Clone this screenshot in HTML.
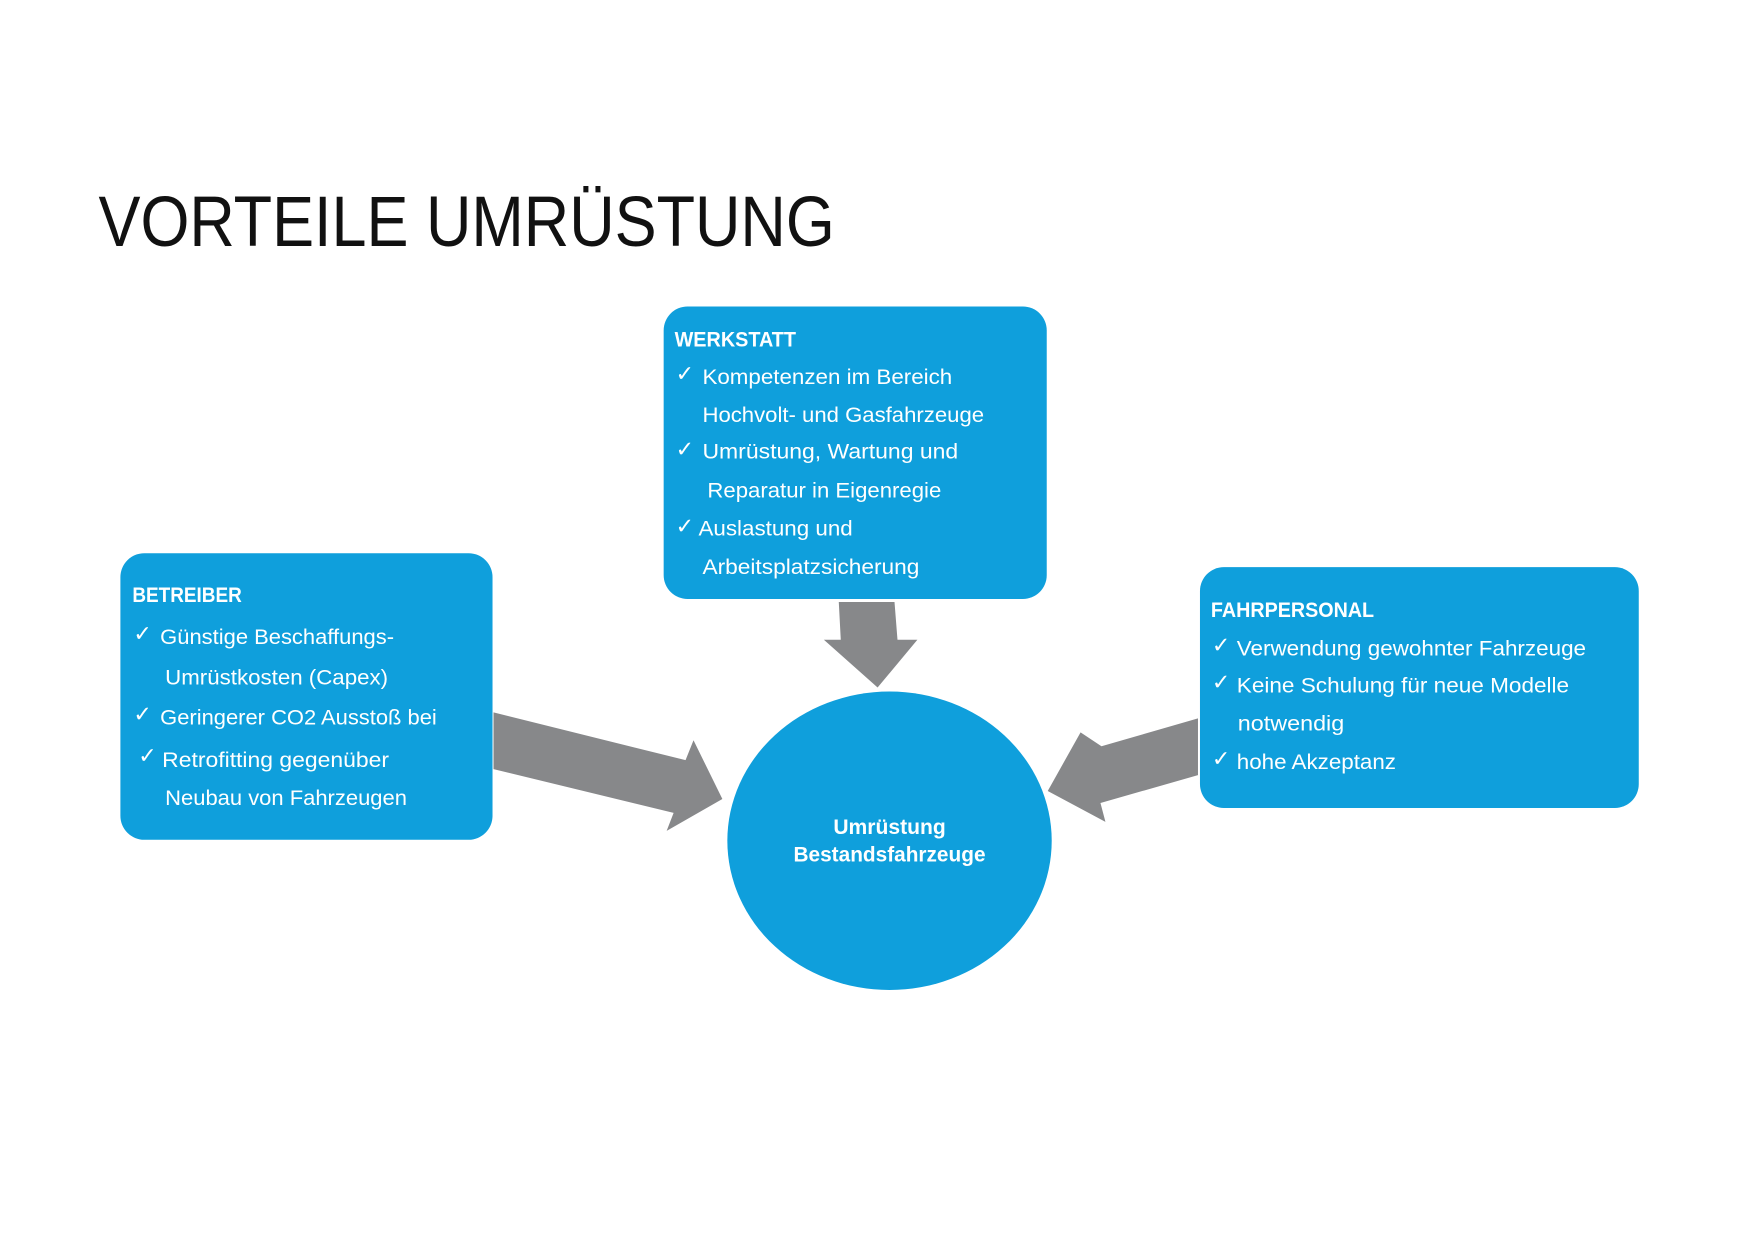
<!DOCTYPE html>
<html><head><meta charset="utf-8"><style>
html,body{margin:0;padding:0;background:#fff;}
svg{display:block;}
text{font-family:"Liberation Sans",sans-serif;}
.t{fill:#fff;font-size:21px;}
.h{fill:#fff;font-size:21px;font-weight:bold;}
.c{fill:#fff;font-size:22px;}
</style></head><body>
<svg width="1753" height="1240" viewBox="0 0 1753 1240" xmlns="http://www.w3.org/2000/svg">
<g transform="scale(0.995)">
<text x="99" y="247" font-size="72" fill="#111" textLength="740" lengthAdjust="spacingAndGlyphs">VORTEILE UMRÜSTUNG</text>

<polygon fill="#87888a" points="843,605 899,605 902,643 922,643 882,691 828,643 845,643"/>
<polygon fill="#87888a" points="496,716 689,764 697,744 726,803 670,835 677,817 496,773"/>
<polygon fill="#87888a" points="1204,722 1107,750 1086,736 1053,795 1111,826 1106,807 1204,779"/>

<rect x="667" y="308" width="385" height="294" rx="24" fill="#0f9fdc"/>
<rect x="121" y="556" width="374" height="288" rx="24" fill="#0f9fdc"/>
<rect x="1206" y="570" width="441" height="242" rx="24" fill="#0f9fdc"/>
<ellipse cx="894" cy="845" rx="163" ry="150" fill="#0f9fdc"/>

<text class="h" x="678" y="348" textLength="122" lengthAdjust="spacingAndGlyphs">WERKSTATT</text>
<text class="c" x="679" y="383">✓</text>
<text class="t" x="706" y="386" textLength="251" lengthAdjust="spacingAndGlyphs">Kompetenzen im Bereich</text>
<text class="t" x="706" y="424" textLength="283" lengthAdjust="spacingAndGlyphs">Hochvolt- und Gasfahrzeuge</text>
<text class="c" x="679" y="459">✓</text>
<text class="t" x="706" y="461" textLength="257" lengthAdjust="spacingAndGlyphs">Umrüstung, Wartung und</text>
<text class="t" x="711" y="500" textLength="235" lengthAdjust="spacingAndGlyphs">Reparatur in Eigenregie</text>
<text class="c" x="679" y="536">✓</text>
<text class="t" x="702" y="538" textLength="155" lengthAdjust="spacingAndGlyphs">Auslastung und</text>
<text class="t" x="706" y="577" textLength="218" lengthAdjust="spacingAndGlyphs">Arbeitsplatzsicherung</text>

<text class="h" x="133" y="605" textLength="110" lengthAdjust="spacingAndGlyphs">BETREIBER</text>
<text class="c" x="134" y="644">✓</text>
<text class="t" x="161" y="647" textLength="235" lengthAdjust="spacingAndGlyphs">Günstige Beschaffungs-</text>
<text class="t" x="166" y="688" textLength="224" lengthAdjust="spacingAndGlyphs">Umrüstkosten (Capex)</text>
<text class="c" x="134" y="725">✓</text>
<text class="t" x="161" y="728" textLength="278" lengthAdjust="spacingAndGlyphs">Geringerer CO2 Ausstoß bei</text>
<text class="c" x="139" y="767">✓</text>
<text class="t" x="163" y="771" textLength="228" lengthAdjust="spacingAndGlyphs">Retrofitting gegenüber</text>
<text class="t" x="166" y="809" textLength="243" lengthAdjust="spacingAndGlyphs">Neubau von Fahrzeugen</text>

<text class="h" x="1217" y="620" textLength="164" lengthAdjust="spacingAndGlyphs">FAHRPERSONAL</text>
<text class="c" x="1218" y="656">✓</text>
<text class="t" x="1243" y="659" textLength="351" lengthAdjust="spacingAndGlyphs">Verwendung gewohnter Fahrzeuge</text>
<text class="c" x="1218" y="693">✓</text>
<text class="t" x="1243" y="696" textLength="334" lengthAdjust="spacingAndGlyphs">Keine Schulung für neue Modelle</text>
<text class="t" x="1244" y="734" textLength="107" lengthAdjust="spacingAndGlyphs">notwendig</text>
<text class="c" x="1218" y="770">✓</text>
<text class="t" x="1243" y="773" textLength="160" lengthAdjust="spacingAndGlyphs">hohe Akzeptanz</text>

<text class="h" x="894" y="838" text-anchor="middle" textLength="113" lengthAdjust="spacingAndGlyphs">Umrüstung</text>
<text class="h" x="894" y="866" text-anchor="middle" textLength="193" lengthAdjust="spacingAndGlyphs">Bestandsfahrzeuge</text>
</g>
</svg>
</body></html>
